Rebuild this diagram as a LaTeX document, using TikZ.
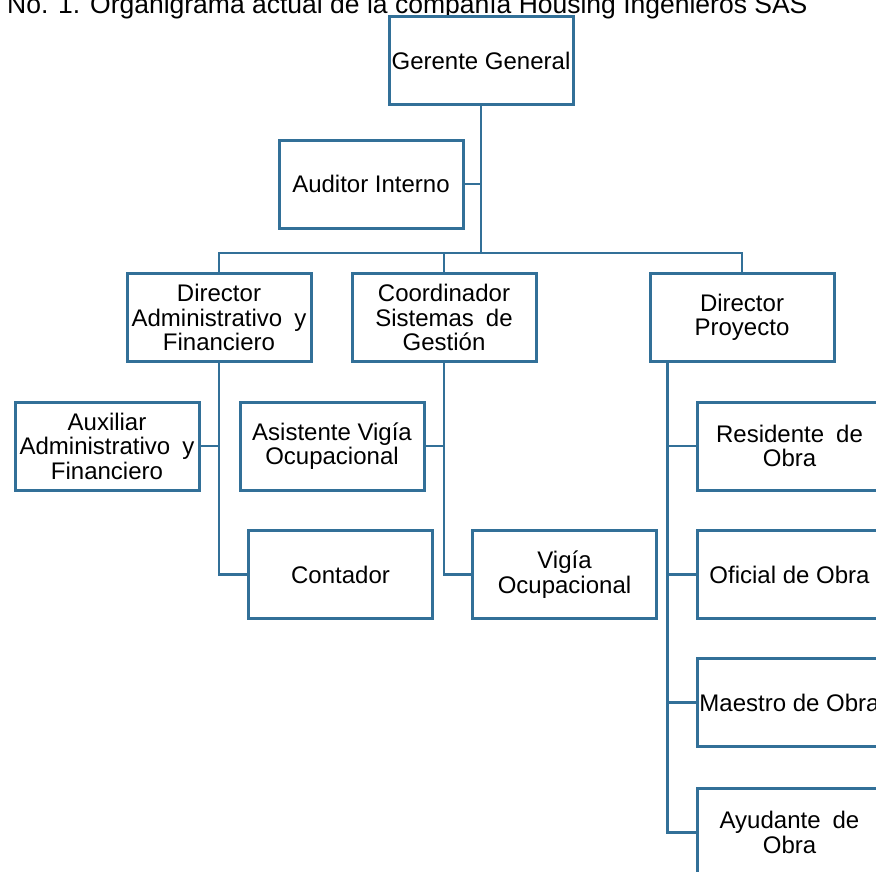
\documentclass[tikz,border=0pt]{standalone}
\usepackage{fontspec}
\setmainfont{Liberation Sans}
\usetikzlibrary{calc}
\definecolor{orgblue}{RGB}{50,112,152}
\newcommand{\wsp}{\hspace{0.5em}}
\begin{document}
\begin{tikzpicture}[x=1pt,y=-1pt,
  box/.style={draw=orgblue, line width=3pt, fill=white, rectangle,
    minimum width=184pt, minimum height=88pt, inner sep=0pt, align=center,
    font=\fontsize{24}{24.5}\selectfont},
  link/.style={draw=orgblue, line width=2.2pt}]
\useasboundingbox (0,0) rectangle (876,871);
\clip (0,0) rectangle (876,871);
\fill[white] (0,0) rectangle (876,871);

\node[anchor=base west, inner sep=0pt, font=\fontsize{26.5}{30}\selectfont] (title) at (7,13)
  {No. 1. Organigrama actual de la compañía Housing Ingenieros SAS};

\node[box] (ger)   at (481,60.5)  {Gerente General};
\node[box] (aud)   at (371,184)   {Auditor Interno};
\node[box] (dir1)  at (219,317.5) {Director\\Administrativo\wsp y\\Financiero};
\node[box] (coord) at (444,317.5) {Coordinador\\Sistemas\wsp de\\Gestión};
\node[box] (dirp)  at (742,317.5) {Director\\Proyecto};
\node[box] (aux)   at (107,446)   {Auxiliar\\Administrativo\wsp y\\Financiero};
\node[box] (asis)  at (332,446)   {Asistente Vigía\\Ocupacional};
\node[box] (cont)  at (340.5,574.5) {Contador};
\node[box] (vigia) at (564.5,574.5) {Vigía\\Ocupacional};
\node[box] (res)   at (789.5,446)   {Residente\wsp de\\Obra};
\node[box] (ofi)   at (789.5,574.5) {Oficial de Obra};
\node[box] (mae)   at (789.5,702.5) {Maestro de Obra};
\node[box] (ayu)   at (789.5,832.5) {Ayudante\wsp de\\Obra};

\coordinate (bus) at (0,253);
\coordinate (dpx) at ([xshift=19pt]dirp.south west);

\draw[link] (ger.south) -- (ger.south |- bus);
\draw[link] (aud.east) -- (aud.east -| ger.south);
\draw[link] (dir1.north) -- (dir1.north |- bus) -- (dirp.north |- bus) -- (dirp.north);
\draw[link] (coord.north) -- (coord.north |- bus);

\draw[link] (dir1.south) |- (cont.west);
\draw[link] (aux.east) -- (aux.east -| dir1.south);

\draw[link] (coord.south) |- (vigia.west);
\draw[link] (asis.east) -- (asis.east -| coord.south);

\draw[link] (dpx) |- (ayu.west);
\draw[link] (res.west) -- (res.west -| dpx);
\draw[link] (ofi.west) -- (ofi.west -| dpx);
\draw[link] (mae.west) -- (mae.west -| dpx);
\end{tikzpicture}
\end{document}
